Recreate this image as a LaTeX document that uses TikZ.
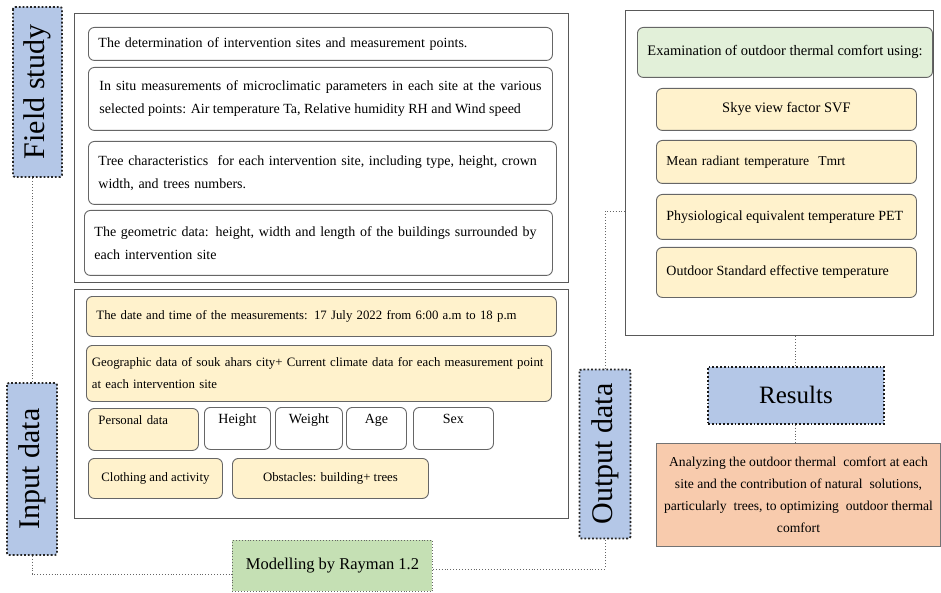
\documentclass[tikz,border=0pt]{standalone}
\usepackage{fontspec}
\setmainfont{Liberation Serif}
\definecolor{labblue}{HTML}{B4C7E7}
\definecolor{yel}{HTML}{FFF2CC}
\definecolor{grnl}{HTML}{E2F0D9}
\definecolor{mgreen}{HTML}{C5E0B4}
\definecolor{orng}{HTML}{F8CBAD}
\begin{document}
\begin{tikzpicture}[x=1pt,y=-1pt,
  lab/.style={draw=black!85, fill=labblue, dotted, line width=1.8pt, rounded corners=2pt, inner sep=0pt, font=\fontsize{30}{34}\selectfont},
  outer/.style={draw=black!65, line width=1pt, inner sep=0pt, anchor=north west},
  rbox/.style={draw=black!60, line width=0.9pt, rounded corners=6pt, fill=white, anchor=north west, inner xsep=10pt, inner ysep=0pt, font=\fontsize{14}{23}\selectfont},
  ybox/.style={rbox, fill=yel, font=\fontsize{12.8}{22}\selectfont},
  conn/.style={draw=black!60, dotted, line width=0.9pt}]
\useasboundingbox (0,0) rectangle (941,593);

% outer frames
\node[outer, minimum width=494, minimum height=269] (F1) at (74,13) {};
\node[outer, minimum width=494, minimum height=229] (F2) at (74,289) {};
\node[outer, minimum width=308, minimum height=325] (R) at (625,10) {};

% field study boxes
\node[rbox, minimum width=464, minimum height=33, text width=444, align=left] (b1) at (88,27) {The determination of intervention sites and measurement points.};
\node[rbox, minimum width=464, minimum height=63, text width=442, align=justify] (b2) at (88,67) {\parfillskip=0pt In situ measurements of microclimatic parameters in each site at the various\linebreak selected points: Air temperature Ta, Relative humidity RH and Wind speed};
\node[rbox, minimum width=468, minimum height=63, text width=448, align=left] (b3) at (88,141) {Tree characteristics\ \ for each intervention site, including type, height, crown\\width, and trees numbers.};
\node[rbox, minimum width=468, minimum height=65, text width=448, align=left] (b4) at (84,210) {The geometric data: height, width and length of the buildings surrounded by\\each intervention site};

% input data boxes
\node[ybox, minimum width=470, minimum height=40, text width=450, align=left] (d1) at (86,296) {The date and time of the measurements: 17 July 2022 from 6:00 a.m to 18 p.m};
\node[ybox, minimum width=465, minimum height=56, text width=454, inner xsep=5.5pt, align=left] (d2) at (86,345) {Geographic data of souk ahars city+ Current climate data for each measurement point\\at each intervention site};
\node[ybox, minimum width=109, minimum height=42, text width=90, align=left] (p1) at (88,408) {Personal data\\[-4pt]\ };
\node[rbox, minimum width=66, minimum height=42, align=center] (p2) at (204,407) {Height\\[-4pt]\ };
\node[rbox, minimum width=67, minimum height=42, align=center] (p3) at (275,407) {Weight\\[-4pt]\ };
\node[rbox, minimum width=60, minimum height=42, align=center] (p4) at (346,407) {Age\\[-4pt]\ };
\node[rbox, minimum width=80, minimum height=42, align=center] (p5) at (413,407) {Sex\\[-4pt]\ };
\node[ybox, minimum width=134, minimum height=40, align=left] (c1) at (88,458) {Clothing and activity};
\node[ybox, minimum width=196, minimum height=40, align=left] (c2) at (232,458) {Obstacles: building+ trees};

% right column boxes
\node[rbox, fill=grnl, minimum width=292, minimum height=50, align=center, font=\fontsize{14.5}{20}\selectfont] (e0) at (637,27) {Examination of outdoor thermal comfort using:};
\node[ybox, minimum width=260, minimum height=42, align=center, font=\fontsize{14.5}{20}\selectfont] (e1) at (656,88) {Skye view factor SVF};
\node[ybox, minimum width=260, minimum height=43, text width=240, align=left, font=\fontsize{13.6}{20}\selectfont] (e2) at (656,140) {Mean radiant temperature\ \ Tmrt};
\node[ybox, minimum width=260, minimum height=45, text width=240, align=justify, font=\fontsize{14}{20}\selectfont] (e3) at (656,194) {\parfillskip=0pt Physiological equivalent temperature PET};
\node[ybox, minimum width=260, minimum height=50, text width=240, align=justify, font=\fontsize{14}{20}\selectfont] (e4) at (656,247) {\parfillskip=0pt Outdoor Standard effective temperature};

% labels
\node[lab, minimum width=170, minimum height=49, rotate=90] (fs) at (37.5,92) {Field study};
\node[lab, minimum width=172, minimum height=50, rotate=90] (in) at (32,469) {Input data};
\node[lab, minimum width=169, minimum height=51, rotate=90] (out) at (605,454) {Output data};

\node[draw=black!60, dotted, line width=0.9pt, fill=mgreen, anchor=north west, minimum width=200, minimum height=51, inner sep=0pt, font=\fontsize{16.5}{20}\selectfont] (mod) at (232,540) {Modelling by Rayman 1.2};
\node[draw=black!90, dotted, line width=1.8pt, fill=labblue, anchor=north west, minimum width=176, minimum height=57, inner sep=0pt, font=\fontsize{25}{28}\selectfont] (res) at (707,366) {Results};
\node[draw=black!55, line width=1pt, fill=orng, anchor=north west, minimum width=284, minimum height=103, inner sep=0pt, align=center, font=\fontsize{13.6}{22}\selectfont] (an) at (656,443) {Analyzing the outdoor thermal\ \ comfort at each\\site and the contribution of natural\ \ solutions,\\particularly\ \ trees, to optimizing\ \ outdoor thermal\\comfort};

% connectors
\draw[conn] (in.east) -- (in.east |- fs.west);
\draw[conn] (in.west) |- ([yshift=-8pt]mod.west);
\draw[conn] ([yshift=-3pt]mod.east) -| (out.west);
\draw[conn] (out.east) |- ([yshift=-38pt]R.west);
\draw[conn] (res.north) -- (res.north |- R.south);
\draw[conn] (res.south) -- (res.south |- an.north);
\end{tikzpicture}
\end{document}
